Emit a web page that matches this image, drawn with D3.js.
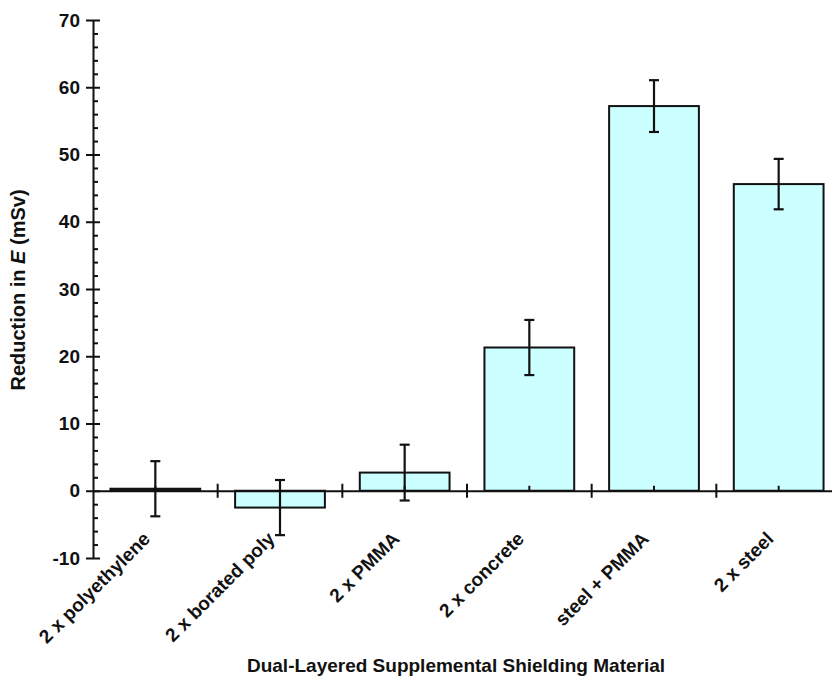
<!DOCTYPE html>
<html>
<head>
<meta charset="utf-8">
<script src="https://cdn.jsdelivr.net/npm/d3@7"></script>
<style>
  body { margin: 0; background: #fff; }
  svg { display: block; font-family: "Liberation Sans", Arial, sans-serif; font-weight: bold; }
</style>
</head>
<body>
<div id="chart"></div>
<script>
// Data
var categories = ["2 x polyethylene", "2 x borated poly", "2 x PMMA", "2 x concrete", "steel + PMMA", "2 x steel"];
var values = [0.3, -2.5, 2.7, 21.3, 57.2, 45.6];
var errors = [4.1, 4.1, 4.15, 4.1, 3.85, 3.75];
var majorTicks = [-10, 0, 10, 20, 30, 40, 50, 60, 70];

var data = categories.map(function(c, i) {
    return {name: c, value: values[i], err: errors[i]};
});

var W = 832, H = 683;
var svg = d3.select("#chart").append("svg")
    .attr("width", W)
    .attr("height", H);

// Scales
var x = d3.scaleBand()
    .domain(categories)
    .range([93, 841])
    .paddingInner(0.28)
    .paddingOuter(0.14);

var y = d3.scaleLinear()
    .domain([-10, 70])
    .range([558, 20]);

// Bars
svg.append("g")
    .selectAll("rect")
    .data(data)
    .enter()
    .append("rect")
    .attr("x", d => x(d.name))
    .attr("width", x.bandwidth())
    .attr("y", d => y(Math.max(0, d.value)))
    .attr("height", d => Math.abs(y(d.value) - y(0)))
    .attr("fill", "#ccffff")
    .attr("stroke", "#111")
    .attr("stroke-width", 2);

// Minor y ticks (every 2)
var minor = d3.range(-10, 70.1, 2).filter(v => v % 10 !== 0);
svg.append("g")
    .attr("transform", "translate(93,0)")
    .call(d3.axisRight(y).tickValues(minor).tickSize(5).tickFormat(""))
    .call(g => g.select(".domain").remove())
    .selectAll("line").attr("stroke", "#111").attr("stroke-width", 2);

// Y axis with crossing major ticks
var yAxis = svg.append("g")
    .attr("transform", "translate(93,0)")
    .call(d3.axisLeft(y).tickValues(majorTicks).tickFormat(d => String(d))
        .tickSizeInner(7).tickSizeOuter(0).tickPadding(6));
yAxis.select(".domain").attr("stroke", "#111").attr("stroke-width", 2);
yAxis.selectAll("line").attr("stroke", "#111").attr("stroke-width", 2).attr("x1", 7);
yAxis.selectAll("text")
    .attr("fill", "#111")
    .style("font-size", "19px")
    .style("font-weight", "bold")
    .style("font-family", "'Liberation Sans', Arial, sans-serif");

// X axis at zero
var xAxis = svg.append("g")
    .attr("transform", "translate(0," + y(0) + ")")
    .call(d3.axisBottom(x).tickSizeInner(-5).tickSizeOuter(0).tickPadding(0));
xAxis.select(".domain").attr("stroke", "#111").attr("stroke-width", 2);
xAxis.selectAll("line").attr("stroke", "#111").attr("stroke-width", 2);
xAxis.selectAll("text").remove();

// Category boundary ticks (crossing)
var step = x.step();
svg.append("g")
    .selectAll("line")
    .data(categories.slice(1))
    .enter()
    .append("line")
    .attr("x1", d => x(d) - step * x.paddingInner() / 2)
    .attr("x2", d => x(d) - step * x.paddingInner() / 2)
    .attr("y1", y(0) - 7)
    .attr("y2", y(0) + 7)
    .attr("stroke", "#111")
    .attr("stroke-width", 2);

// Error bars
var eb = svg.append("g").attr("stroke", "#111").attr("stroke-width", 2.2);
data.forEach(function(d) {
    var cx = x(d.name) + x.bandwidth() / 2;
    eb.append("line").attr("x1", cx).attr("x2", cx)
        .attr("y1", y(d.value + d.err)).attr("y2", y(d.value - d.err));
    [d.value + d.err, d.value - d.err].forEach(function(v) {
        eb.append("line").attr("x1", cx - 5).attr("x2", cx + 5)
            .attr("y1", y(v)).attr("y2", y(v));
    });
});

// Rotated category labels
svg.append("g")
    .selectAll("text")
    .data(categories)
    .enter()
    .append("text")
    .attr("transform", d => "translate(" + (x(d) + x.bandwidth() / 2 - 4) + "," + 540 + ") rotate(-45)")
    .attr("text-anchor", "end")
    .attr("fill", "#111")
    .style("font-size", "19px")
    .text(d => d);

// Axis titles
svg.append("text")
    .attr("x", 456)
    .attr("y", 672)
    .attr("text-anchor", "middle")
    .attr("fill", "#111")
    .style("font-size", "19px")
    .text("Dual-Layered Supplemental Shielding Material");

var yt = svg.append("text")
    .attr("transform", "translate(25,290) rotate(-90)")
    .attr("text-anchor", "middle")
    .attr("fill", "#111")
    .style("font-size", "20px");
yt.append("tspan").text("Reduction in ");
yt.append("tspan").style("font-style", "italic").text("E");
yt.append("tspan").text(" (mSv)");
</script>
</body>
</html>
